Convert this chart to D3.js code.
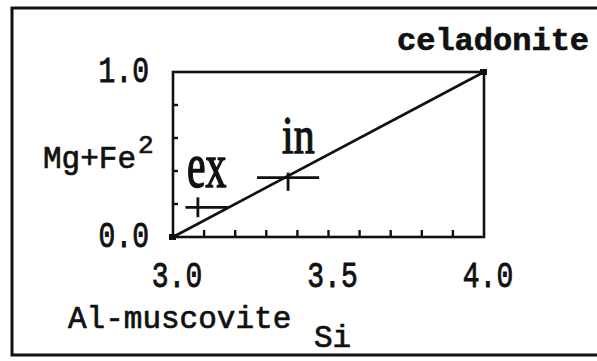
<!DOCTYPE html>
<html>
<head>
<meta charset="utf-8">
<script src="https://cdn.jsdelivr.net/npm/d3@7"></script>
<style>
  html, body { margin: 0; padding: 0; background: #fff; }
  svg { display: block; }
  .mono { font-family: "Liberation Mono", "DejaVu Sans Mono", monospace; fill: #111; stroke: #111; stroke-width: 0.7; }
  .serif { font-family: "Liberation Serif", "DejaVu Serif", serif; fill: #111; stroke: #111; stroke-width: 1.1; }
</style>
</head>
<body>
<svg id="chart" width="597" height="361"></svg>
<script>
// Si range and Mg+Fe range of the diagram
const xDomain = [3.0, 4.0];
const yDomain = [0.0, 1.0];

// labelled ticks and unlabelled minor ticks
const xTickLabels = [3.0, 3.5, 4.0];
const xMinorTicks = [3.1, 3.2, 3.3, 3.4, 3.5, 3.6, 3.7, 3.8, 3.9];
const yTickLabels = [1.0, 0.0];
const yMinorTicks = [0.2, 0.4, 0.6, 0.8];

// end members: Al-muscovite (3.0, 0.0) to celadonite (4.0, 1.0)
const endMembers = [[3.0, 0.0], [4.0, 1.0]];

// compositions with ranges: exterior and interior
const groups  = ["ex", "in"];
const siMid   = [3.08, 3.37];
const siLow   = [3.04, 3.27];
const siHigh  = [3.18, 3.47];
const mgfeMid = [0.18, 0.36];
const mgfeLow = [0.12, 0.28];
const mgfeHigh = [0.24, 0.39];

const svg = d3.select("#chart");

// outer frame
svg.append("path")
  .attr("d", "M600,8 H12 V355 H600")
  .attr("fill", "none").attr("stroke", "#111").attr("stroke-width", 3);

const x = d3.scaleLinear().domain(xDomain).range([173, 484]);
const y = d3.scaleLinear().domain(yDomain).range([237, 72]);

// plot box
svg.append("rect")
  .attr("x", x(3.0)).attr("y", y(1.0))
  .attr("width", x(4.0) - x(3.0)).attr("height", y(0.0) - y(1.0))
  .attr("fill", "none").attr("stroke", "#111").attr("stroke-width", 2.6);

// inward ticks
svg.append("g").selectAll("line").data(xMinorTicks).join("line")
  .attr("x1", d => x(d)).attr("x2", d => x(d))
  .attr("y1", y(0)).attr("y2", y(0) - 7)
  .attr("stroke", "#111").attr("stroke-width", 2.4);
svg.append("g").selectAll("line").data(yMinorTicks).join("line")
  .attr("x1", x(3.0) - 1).attr("x2", x(3.0) + 5)
  .attr("y1", d => y(d)).attr("y2", d => y(d))
  .attr("stroke", "#111").attr("stroke-width", 2.4);

// muscovite–celadonite join
svg.append("path")
  .attr("d", d3.line().x(d => x(d[0])).y(d => y(d[1]))(endMembers))
  .attr("fill", "none").attr("stroke", "#111").attr("stroke-width", 2.6);
svg.append("g").selectAll("rect").data(endMembers).join("rect")
  .attr("x", d => x(d[0]) - 4).attr("y", d => y(d[1]) - 3)
  .attr("width", 7).attr("height", 6).attr("fill", "#111");

// composition crosses
const g = svg.append("g");
groups.forEach((name, i) => {
  g.append("line")
    .attr("x1", x(siLow[i])).attr("x2", x(siHigh[i]))
    .attr("y1", y(mgfeMid[i])).attr("y2", y(mgfeMid[i]))
    .attr("stroke", "#111").attr("stroke-width", 2.8);
  g.append("line")
    .attr("x1", x(siMid[i])).attr("x2", x(siMid[i]))
    .attr("y1", y(mgfeLow[i])).attr("y2", y(mgfeHigh[i]))
    .attr("stroke", "#111").attr("stroke-width", 2.8);
});

// group labels
const groupLabelOffset = [[-11, -20], [-6, -25]];
const groupLabelStretch = [1.42, 1.2];
groups.forEach((name, i) => {
  const px = x(siMid[i]) + groupLabelOffset[i][0];
  const py = y(mgfeMid[i]) + groupLabelOffset[i][1];
  svg.append("text").attr("class", "serif")
    .attr("transform", `translate(${px},${py}) scale(0.95,${groupLabelStretch[i]})`)
    .attr("font-size", 44)
    .text(name);
});

// tick labels
const fmt = d3.format(".1f");
svg.append("g").selectAll("text").data(yTickLabels).join("text")
  .attr("class", "mono")
  .attr("transform", d => `translate(149,${y(d) + 10}) scale(1,1.3)`)
  .attr("text-anchor", "end").attr("font-size", 28)
  .text(fmt);
svg.append("g").selectAll("text").data(xTickLabels).join("text")
  .attr("class", "mono")
  .attr("transform", d => `translate(${x(d) + 4},287) scale(1,1.3)`)
  .attr("text-anchor", "middle").attr("font-size", 28)
  .text(fmt);

// axis and end-member names
const yTitle = svg.append("text").attr("class", "mono")
  .attr("x", 43).attr("y", 168).attr("font-size", 31);
yTitle.append("tspan").text("Mg+Fe");
yTitle.append("tspan").attr("dx", 2).attr("dy", -15).attr("font-size", 26).text("2");

svg.append("text").attr("class", "mono")
  .attr("x", 68).attr("y", 328).attr("font-size", 31)
  .text("Al-muscovite");
svg.append("text").attr("class", "mono")
  .attr("x", 314).attr("y", 347).attr("font-size", 31)
  .text("Si");
svg.append("text").attr("class", "mono")
  .attr("x", 397).attr("y", 50).attr("font-size", 32).attr("font-weight", "bold")
  .attr("stroke-width", 0.3)
  .text("celadonite");
</script>
</body>
</html>
